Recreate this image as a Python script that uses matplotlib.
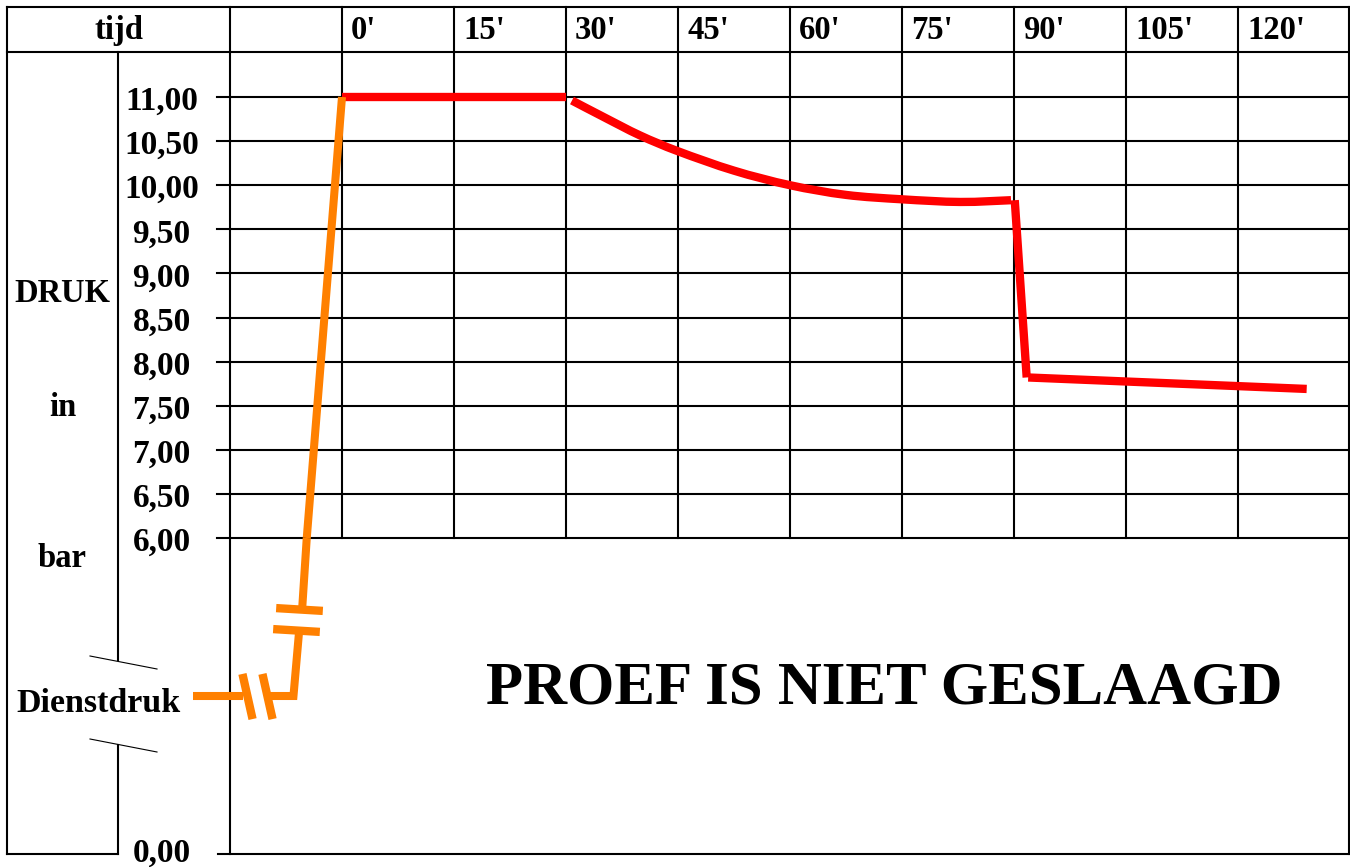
import matplotlib
matplotlib.use("Agg")
import matplotlib.pyplot as plt
from matplotlib.transforms import blended_transform_factory as blend, offset_copy
from matplotlib.path import Path
from matplotlib.patches import PathPatch

# ---------------- data ----------------
time_ticks = [0, 15, 30, 45, 60, 75, 90, 105, 120]
time_labels = ["0'", "15'", "30'", "45'", "60'", "75'", "90'", "105'", "120'"]
pressure_ticks = [11.0, 10.5, 10.0, 9.5, 9.0, 8.5, 8.0, 7.5, 7.0, 6.5, 6.0]
pressure_labels = ["11,00", "10,50", "10,00", "9,50", "9,00", "8,50",
                   "8,00", "7,50", "7,00", "6,50", "6,00"]
zero_label = "0,00"
side_labels = ["DRUK", "in", "bar"]
service_label = "Dienstdruk"
verdict = "PROEF IS NIET GESLAAGD"

# red: test pressure curve (upper scale, bar)
red_hold_t = [0, 30]
red_hold_p = [11.0, 11.0]
red_decay_t = [30.8, 35, 39.9, 45, 52.5, 60, 67.5, 75, 82.8, 89.6]
red_decay_p = [10.96, 10.775, 10.565, 10.385, 10.165, 10.00, 9.89, 9.84, 9.81, 9.83]
red_drop_t = [90.1, 91.7]
red_drop_p = [9.83, 7.82]
red_end_t = [91.9, 129.2]
red_end_p = [7.82, 7.69]

# orange: pressurising from service pressure (lower schematic scale, then upper)
or_service_t = [-20.0, -13.3]
or_service_p = [3.0, 3.0]
or_rise1_t = [-9.8, -6.5, -5.75]
or_rise1_p = [3.0, 3.0, 4.22]
or_rise2_low_t = [-5.32, -4.72]
or_rise2_low_p = [4.69, 6.0]
or_rise2_up_t = [-4.72, 0.0]
or_rise2_up_p = [6.0, 11.0]
brk_h_t = [-12.68, -10.08]
brk_h_p = [3.0, 3.0]
brk_v_t = [-6.16, -5.72]
brk_v_p = [4.26, 4.65]

# ---------------- layout (pixels) ----------------
W, H = 1350, 867
X0, X_END = 342, 1349          # time 0 and right border
PX_MIN = 112 / 15               # px per minute
Y11, Y6, Y0 = 97, 538, 854      # px of 11 bar, 6 bar, 0 bar
TOP, HEAD = 7, 52
LEFT, COL1, COL2 = 7, 118, 230

RED = "#FF0000"
ORANGE = "#FF8000"
FONT = "Liberation Serif"
FS = 23.5
LW = 1.5

fig = plt.figure(figsize=(W / 100, H / 100), dpi=100)
fr = fig.add_axes([0, 0, 1, 1])
fr.set_xlim(0, W)
fr.set_ylim(H, 0)
fr.axis("off")

tmax = (W - X0) / PX_MIN
ax = fig.add_axes([X0 / W, 1 - Y6 / H, (W - X0) / W, (Y6 - Y11) / H])
ax.set_xlim(0, tmax)
ax.set_ylim(6, 11)
ax.axis("off")
axl = fig.add_axes([X0 / W, 1 - Y0 / H, (W - X0) / W, (Y0 - Y6) / H])
axl.set_xlim(0, tmax)
axl.set_ylim(0, 6)
axl.axis("off")
for a in (ax, axl):
    a.patch.set_alpha(0)

k = dict(color="black", lw=LW, solid_capstyle="projecting")
# frame
fr.plot([LEFT, X_END], [TOP, TOP], **k)
fr.plot([LEFT, X_END], [HEAD, HEAD], **k)
fr.plot([LEFT, LEFT], [TOP, Y0], **k)
fr.plot([X_END, X_END], [TOP, Y0], **k)
fr.plot([LEFT, COL1], [Y0, Y0], **k)
fr.plot([COL2, COL2], [TOP, Y0], **k)
fr.plot([COL1, COL1], [HEAD, 660], **k)
fr.plot([COL1, COL1], [745, Y0], **k)
fr.plot([90, 157], [656, 669], color="black", lw=0.8)
fr.plot([90, 157], [739, 752], color="black", lw=0.8)

# horizontal grid lines (data y, pixel x)
tr_h = blend(fr.transData, ax.transData)
for p in pressure_ticks:
    fr.plot([217, X_END], [p, p], transform=tr_h, clip_on=False, **k)
tr_hl = blend(fr.transData, axl.transData)
fr.plot([218, X_END], [0, 0], transform=tr_hl, clip_on=False, **k)

# vertical grid lines (data x, pixel y)
tr_v = blend(ax.transData, fr.transData)
for t in time_ticks:
    fr.plot([t, t], [TOP, Y11], transform=tr_v, clip_on=False, **k)
    ax.plot([t, t], [6, 11], clip_on=False, **k)

# header labels
tr_head = offset_copy(tr_v, fig=fig, x=9, y=0, units="dots")
for t, lab in zip(time_ticks, time_labels):
    fr.text(t, 39, lab, transform=tr_head, ha="left", va="baseline",
            fontfamily=FONT, fontweight="bold", fontsize=FS)
fr.text((LEFT + COL2) / 2, 39, "tijd", ha="center", va="baseline",
        fontfamily=FONT, fontweight="bold", fontsize=FS)

# pressure tick labels
tr_lab = offset_copy(tr_h, fig=fig, x=0, y=-13, units="dots")
for p, lab in zip(pressure_ticks, pressure_labels):
    fr.text(161.5, p, lab, transform=tr_lab, ha="center", va="baseline",
            fontfamily=FONT, fontweight="bold", fontsize=24)
tr_lab0 = offset_copy(tr_hl, fig=fig, x=0, y=-8, units="dots")
fr.text(161.5, 0, zero_label, transform=tr_lab0, ha="center", va="baseline",
        fontfamily=FONT, fontweight="bold", fontsize=24)

# side labels
for lab, y in zip(side_labels, [302, 416, 567]):
    fr.text(62.5, y, lab, ha="center", va="baseline",
            fontfamily=FONT, fontweight="bold", fontsize=FS)
fr.text(98.5, 712, service_label, ha="center", va="baseline",
        fontfamily=FONT, fontweight="bold", fontsize=24.5)

fr.text(884, 703, verdict, ha="center", va="baseline",
        fontfamily=FONT, fontweight="bold", fontsize=43.8)


def smooth_path(xs, ys):
    """Catmull-Rom spline through the read points, drawn as Bezier curves."""
    pts = list(zip(xs, ys))
    ext = [pts[0]] + pts + [pts[-1]]
    verts = [pts[0]]
    codes = [Path.MOVETO]
    for i in range(1, len(ext) - 2):
        p0, p1, p2, p3 = ext[i - 1], ext[i], ext[i + 1], ext[i + 2]
        c1 = (p1[0] + (p2[0] - p0[0]) / 6, p1[1] + (p2[1] - p0[1]) / 6)
        c2 = (p2[0] - (p3[0] - p1[0]) / 6, p2[1] - (p3[1] - p1[1]) / 6)
        verts += [c1, c2, p2]
        codes += [Path.CURVE4] * 3
    return Path(verts, codes)


# red curve
rk = dict(color=RED, lw=6.0, solid_capstyle="butt", solid_joinstyle="round",
          clip_on=False, zorder=5)
ax.plot(red_hold_t, red_hold_p, **rk)
ax.add_patch(PathPatch(smooth_path(red_decay_t, red_decay_p), fill=False,
                       edgecolor=RED, lw=6.0, capstyle="butt",
                       clip_on=False, zorder=5))
ax.plot(red_drop_t, red_drop_p, **rk)
ax.plot(red_end_t, red_end_p, **rk)

# orange curve
ok = dict(color=ORANGE, lw=5.8, solid_capstyle="butt", solid_joinstyle="miter",
          clip_on=False, zorder=5)
axl.plot(or_service_t, or_service_p, **ok)
axl.plot(or_rise1_t, or_rise1_p, **ok)
axl.plot(or_rise2_low_t, or_rise2_low_p, **ok)
ax.plot(or_rise2_up_t, or_rise2_up_p, **ok)

slant = Path([[-0.112, 0.5], [0.112, -0.5]])
flat = Path([[-0.5, 0.03], [0.5, -0.03]])
axl.plot(brk_h_t, brk_h_p, ls="none", marker=slant, ms=32.5, mew=6.0,
         color=ORANGE, clip_on=False, zorder=6)
axl.plot(brk_v_t, brk_v_p, ls="none", marker=flat, ms=33.6, mew=6.0,
         color=ORANGE, clip_on=False, zorder=6)

fig.savefig("out.png", dpi=100)
